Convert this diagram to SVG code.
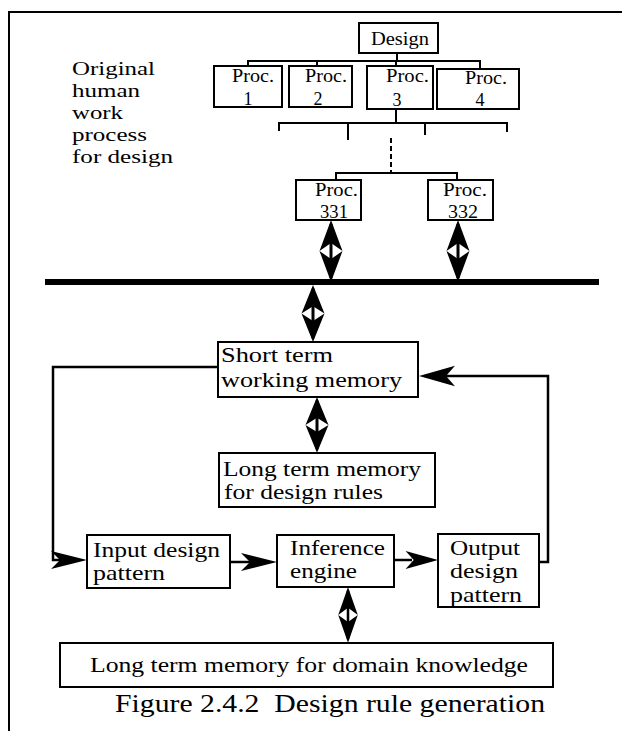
<svg xmlns="http://www.w3.org/2000/svg" width="622" height="731" viewBox="0 0 622 731">
  <style>
    .box { fill: #fff; stroke: #000; stroke-width: 2; }
    .ln { fill: none; stroke: #000; stroke-width: 2; }
    .loop { fill: none; stroke: #000; stroke-width: 2.5; }
    .head { fill: #000; stroke: none; }
    text { font-family: "Liberation Serif", "Times New Roman", serif; fill: #000; }
    .side { font-size: 19px; }
    .proc { font-size: 18px; }
    .ttl { font-size: 18px; }
    .lbl { font-size: 22px; }
    .cap { font-size: 25px; }
  </style>
  <defs>
    <!-- double-headed vertical arrow, 0 at upper tip, length 62 -->
    <g id="dbl">
      <line x1="0" y1="4" x2="0" y2="58" stroke="#000" stroke-width="3"/>
      <path class="head" d="M0,0 L11.5,31 L0,23 L-11.5,31 Z"/>
      <path class="head" d="M0,62 L11.5,31 L0,39 L-11.5,31 Z"/>
    </g>
    <!-- swept arrowhead pointing right, tip at origin -->
    <path id="hd" class="head" d="M0,0 L-36,-9 L-27,0 L-36,9 Z"/>
  </defs>

  <!-- frame -->
  <g id="frame">
    <line class="ln" x1="9" y1="12" x2="622" y2="12"/>
    <line class="ln" x1="9" y1="11" x2="9" y2="731"/>
  </g>

  <g id="side-note">
    <text class="side" x="72" y="75" textLength="83" lengthAdjust="spacingAndGlyphs">Original</text>
    <text class="side" x="72" y="97" textLength="68" lengthAdjust="spacingAndGlyphs">human</text>
    <text class="side" x="72" y="119" textLength="51" lengthAdjust="spacingAndGlyphs">work</text>
    <text class="side" x="72" y="141" textLength="75" lengthAdjust="spacingAndGlyphs">process</text>
    <text class="side" x="72" y="163" textLength="101" lengthAdjust="spacingAndGlyphs">for design</text>
  </g>

  <!-- connectors -->
  <g id="connectors">
    <!-- design tree -->
    <polyline class="ln" points="397,53 397,61"/>
    <polyline class="ln" points="248,66 248,61 480,61 480,69"/>
    <line class="ln" x1="317" y1="61" x2="317" y2="66"/>
    <line class="ln" x1="396" y1="61" x2="396" y2="66"/>
    <line class="ln" x1="396" y1="109" x2="396" y2="123"/>
    <polyline class="ln" points="279,131 279,123 507,123 507,132"/>
    <line class="ln" x1="348" y1="123" x2="348" y2="140"/>
    <line class="ln" x1="425" y1="123" x2="425" y2="135"/>
    <line class="ln" x1="391" y1="138" x2="391" y2="172" stroke-dasharray="5 3"/>
    <polyline class="ln" points="336,180 336,173 457,173 457,180"/>

    <!-- shared bus -->
    <line x1="45" y1="282" x2="599" y2="282" stroke="#000" stroke-width="6"/>

    <!-- vertical exchanges -->
    <use href="#dbl" x="331" y="220"/>
    <use href="#dbl" x="458" y="220"/>
    <use href="#dbl" transform="translate(313,285) scale(1,0.92)"/>
    <use href="#dbl" transform="translate(317,397) scale(1,0.9)"/>
    <use href="#dbl" transform="translate(348,587) scale(0.85,0.9)"/>

    <!-- feedback loops -->
    <polyline class="loop" points="218,367 53,367 53,560 60,560"/>
    <use href="#hd" x="87" y="560"/>
    <polyline class="loop" points="539,562 548,562 548,376 440,376"/>
    <use href="#hd" transform="translate(419,376) scale(-1,1.15)"/>

    <!-- forward flow -->
    <line class="loop" x1="230" y1="562" x2="250" y2="562"/>
    <use href="#hd" x="277" y="562"/>
    <line class="loop" x1="394" y1="560" x2="412" y2="560"/>
    <use href="#hd" transform="translate(438,560) scale(0.9,1)"/>
  </g>

  <g id="design">
    <rect class="box" x="359" y="23" width="79" height="30"/>
    <text class="ttl" x="371" y="45" textLength="58" lengthAdjust="spacingAndGlyphs">Design</text>
  </g>
  <g id="proc1">
    <rect class="box" x="214" y="66" width="68" height="41"/>
    <text class="proc" x="232" y="82" textLength="42" lengthAdjust="spacingAndGlyphs">Proc.</text>
    <text class="proc" x="248" y="105" text-anchor="middle">1</text>
  </g>
  <g id="proc2">
    <rect class="box" x="289" y="66" width="63" height="41"/>
    <text class="proc" x="305" y="82" textLength="42" lengthAdjust="spacingAndGlyphs">Proc.</text>
    <text class="proc" x="318" y="105" text-anchor="middle">2</text>
  </g>
  <g id="proc3">
    <rect class="box" x="367" y="66" width="66" height="43"/>
    <text class="proc" x="386" y="82" textLength="43" lengthAdjust="spacingAndGlyphs">Proc.</text>
    <text class="proc" x="397" y="106" text-anchor="middle">3</text>
  </g>
  <g id="proc4">
    <rect class="box" x="437" y="69" width="82" height="40"/>
    <text class="proc" x="465" y="84" textLength="42" lengthAdjust="spacingAndGlyphs">Proc.</text>
    <text class="proc" x="480" y="106" text-anchor="middle">4</text>
  </g>
  <g id="proc331">
    <rect class="box" x="296" y="180" width="65" height="40"/>
    <text class="proc" x="315" y="196" textLength="43" lengthAdjust="spacingAndGlyphs">Proc.</text>
    <text class="proc" x="320" y="218" textLength="28" lengthAdjust="spacingAndGlyphs">331</text>
  </g>
  <g id="proc332">
    <rect class="box" x="428" y="180" width="65" height="40"/>
    <text class="proc" x="443" y="196" textLength="44" lengthAdjust="spacingAndGlyphs">Proc.</text>
    <text class="proc" x="448" y="218" textLength="30" lengthAdjust="spacingAndGlyphs">332</text>
  </g>

  <g id="short-term">
    <rect class="box" x="218" y="342" width="200" height="55"/>
    <text class="lbl" x="221" y="362" textLength="112" lengthAdjust="spacingAndGlyphs">Short term</text>
    <text class="lbl" x="221" y="387" textLength="181" lengthAdjust="spacingAndGlyphs">working memory</text>
  </g>
  <g id="rules-memory">
    <rect class="box" x="219" y="453" width="216" height="54"/>
    <text class="lbl" x="223" y="476" textLength="198" lengthAdjust="spacingAndGlyphs">Long term memory</text>
    <text class="lbl" x="224" y="499" textLength="159" lengthAdjust="spacingAndGlyphs">for design rules</text>
  </g>
  <g id="input">
    <rect class="box" x="87" y="535" width="143" height="53"/>
    <text class="lbl" x="93" y="557" textLength="127" lengthAdjust="spacingAndGlyphs">Input design</text>
    <text class="lbl" x="93" y="580" textLength="72" lengthAdjust="spacingAndGlyphs">pattern</text>
  </g>
  <g id="inference">
    <rect class="box" x="277" y="535" width="117" height="52"/>
    <text class="lbl" x="290" y="555" textLength="95" lengthAdjust="spacingAndGlyphs">Inference</text>
    <text class="lbl" x="290" y="578" textLength="67" lengthAdjust="spacingAndGlyphs">engine</text>
  </g>
  <g id="output">
    <rect class="box" x="438" y="534" width="101" height="73"/>
    <text class="lbl" x="450" y="555" textLength="70" lengthAdjust="spacingAndGlyphs">Output</text>
    <text class="lbl" x="450" y="578" textLength="68" lengthAdjust="spacingAndGlyphs">design</text>
    <text class="lbl" x="450" y="602" textLength="72" lengthAdjust="spacingAndGlyphs">pattern</text>
  </g>
  <g id="domain-memory">
    <rect class="box" x="60" y="643" width="493" height="44"/>
    <text class="lbl" x="90" y="672" textLength="438" lengthAdjust="spacingAndGlyphs">Long term memory for domain knowledge</text>
  </g>

  <text class="cap" x="115" y="712" textLength="430" lengthAdjust="spacingAndGlyphs" xml:space="preserve">Figure 2.4.2  Design rule generation</text>
</svg>
